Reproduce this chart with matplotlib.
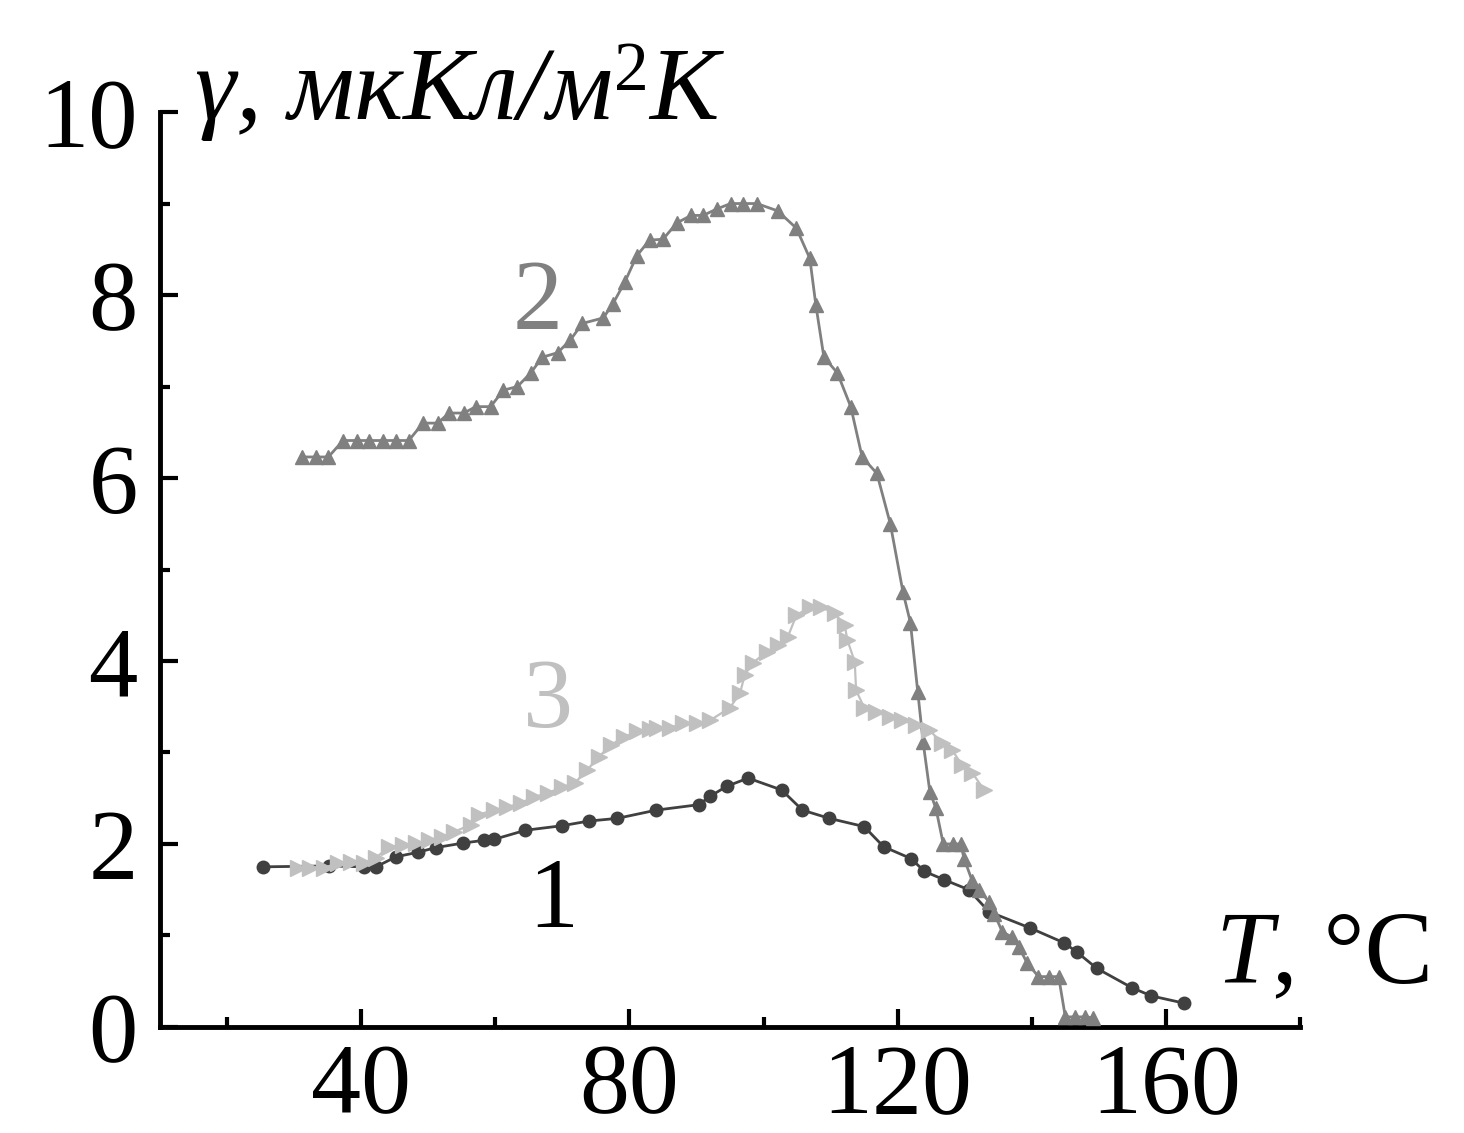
import matplotlib
matplotlib.use("Agg")
import matplotlib.pyplot as plt
from matplotlib.ticker import MultipleLocator

plt.rcParams['font.family'] = ['Liberation Serif', 'DejaVu Serif']

# curve 1 (dark circles)
t1 = [25.3, 35.2, 40.4, 42.2, 45.2, 48.5, 51.1, 55.2, 58.3, 59.8, 64.5, 70.0,
      73.9, 78.2, 84.0, 90.4, 92.0, 94.5, 97.7, 102.7, 105.8, 109.8, 115.0,
      117.9, 122.0, 124.0, 126.9, 130.6, 133.6, 139.8, 144.8, 146.7, 149.7,
      154.9, 157.8, 162.7]
g1 = [1.75, 1.76, 1.75, 1.75, 1.86, 1.91, 1.96, 2.01, 2.04, 2.05, 2.15, 2.20,
      2.25, 2.28, 2.37, 2.43, 2.52, 2.63, 2.72, 2.59, 2.37, 2.28, 2.19,
      1.97, 1.84, 1.70, 1.61, 1.50, 1.26, 1.08, 0.92, 0.82, 0.64,
      0.43, 0.34, 0.26]

# curve 2 (gray up triangles)
t2 = [31.2, 33.3, 35.1, 37.3, 39.3, 41.2, 43.3, 45.2, 47.1, 49.2,
      51.4, 53.1, 55.3, 57.1, 59.3, 61.2, 63.3, 65.3, 67.0, 69.3,
      71.2, 73.0, 76.1, 77.5, 79.3, 81.1, 83.0, 85.0, 87.1, 89.2,
      91.0, 93.0, 95.1, 97.0, 99.0, 102.1, 104.9, 106.9, 107.8, 109.0,
      111.0, 113.0, 114.7, 116.9, 118.9, 120.8, 121.9, 123.0, 123.8, 124.8,
      125.7, 126.8, 128.2, 129.4, 129.9, 131.1, 132.1, 133.6, 134.4, 135.6,
      137.1, 138.1, 139.3, 141.0, 142.5, 144.0, 145.0, 146.5, 148.0, 149.2]
g2 = [6.23, 6.23, 6.23, 6.41, 6.41, 6.41, 6.41, 6.41, 6.41, 6.60,
      6.60, 6.71, 6.71, 6.78, 6.78, 6.96, 7.00, 7.15, 7.32, 7.37,
      7.51, 7.69, 7.75, 7.90, 8.14, 8.43, 8.60, 8.61, 8.79, 8.87,
      8.87, 8.94, 9.00, 9.00, 9.00, 8.92, 8.73, 8.40, 7.89, 7.32,
      7.15, 6.78, 6.23, 6.05, 5.50, 4.75, 4.42, 3.66, 3.11, 2.57,
      2.39, 2.00, 2.00, 2.00, 1.84, 1.60, 1.50, 1.37, 1.24, 1.04,
      0.98, 0.87, 0.70, 0.55, 0.55, 0.55, 0.11, 0.11, 0.11, 0.10]

# curve 3 (light right triangles)
t3 = [30.6, 32.3, 34.4, 36.6, 38.5, 40.4, 42.2, 44.2, 46.2, 48.2,
      50.1, 52.0, 53.8, 56.3, 57.5, 59.8, 61.8, 63.8, 65.7, 67.9,
      70.0, 71.9, 73.7, 75.4, 77.2, 79.2, 81.2, 83.0, 84.1, 86.1,
      88.0, 90.1, 92.0, 95.0, 96.5, 97.2, 98.4, 100.5, 102.1, 103.6,
      104.9, 106.9, 108.6, 110.6, 112.1, 112.5, 113.6, 113.8, 115.0, 116.8,
      118.8, 120.7, 122.8, 124.7, 126.6, 128.1, 129.6, 131.1, 132.9]
g3 = [1.74, 1.74, 1.74, 1.79, 1.80, 1.79, 1.85, 1.97, 1.99, 2.01,
      2.04, 2.08, 2.13, 2.21, 2.32, 2.37, 2.40, 2.45, 2.51, 2.56,
      2.62, 2.67, 2.81, 2.95, 3.08, 3.17, 3.23, 3.26, 3.27, 3.27,
      3.32, 3.32, 3.35, 3.49, 3.65, 3.85, 3.98, 4.10, 4.17, 4.26,
      4.50, 4.59, 4.59, 4.52, 4.39, 4.23, 3.99, 3.68, 3.49, 3.44,
      3.39, 3.35, 3.30, 3.25, 3.10, 3.03, 2.86, 2.78, 2.59]

c1, c2, c3 = '#404040', '#808080', '#c0c0c0'

fig = plt.figure(figsize=(14.64, 11.33), dpi=100)
ax = fig.add_axes([0.1093, 0.0936, 0.7787, 0.8075])

ax.plot(t1, g1, '-o', color=c1, lw=2, ms=9, zorder=3)
ax.plot(t2, g2, '-^', color=c2, lw=2, ms=10.5, zorder=4)
ax.plot(t3, g3, '->', color=c3, lw=1.6, ms=11, zorder=5)

ax.set_xlim(10, 180)
ax.set_ylim(0, 10)
ax.xaxis.set_minor_locator(MultipleLocator(20))
ax.yaxis.set_minor_locator(MultipleLocator(1))
ax.set_xticks([40, 80, 120, 160])
ax.set_yticks([0, 2, 4, 6, 8, 10])

for s in ['top', 'right']:
    ax.spines[s].set_visible(False)
for s in ['left', 'bottom']:
    ax.spines[s].set_linewidth(3.5)
ax.tick_params(which='major', direction='in', length=13, width=3)
ax.tick_params(which='minor', direction='in', length=7, width=3)
ax.tick_params(axis='x', which='major', pad=12, labelsize=72)
ax.tick_params(axis='y', which='major', pad=16, labelsize=71)

ax.text(66.3, 7.64, '2', color=c2, fontsize=72, ha='center', va='baseline')
ax.text(67.9, 3.28, '3', color=c3, fontsize=72, ha='center', va='baseline')
ax.text(68.7, 1.09, '1', color='black', fontsize=72, ha='center', va='baseline')

# y axis title
ty = fig.text(0.133, 0.895, 'γ, мкКл/м', fontsize=75, style='italic', ha='left', va='baseline')
t_sup = ax.annotate('2', xy=(1, 1), xycoords=ty, xytext=(1, 4), textcoords='offset points',
                    fontsize=50, ha='left', va='top', annotation_clip=False)
ax.annotate('K', xy=(1, 0), xycoords=(t_sup, ty), fontsize=75, style='italic',
            ha='left', va='bottom', annotation_clip=False)

# x axis title
tx = fig.text(0.830, 0.133, 'T', fontsize=74, style='italic', ha='left', va='baseline')
ax.annotate(', °C', xy=(1, 0), xycoords=tx, fontsize=74, ha='left', va='bottom',
            annotation_clip=False)

fig.savefig('out.png', dpi=100)
